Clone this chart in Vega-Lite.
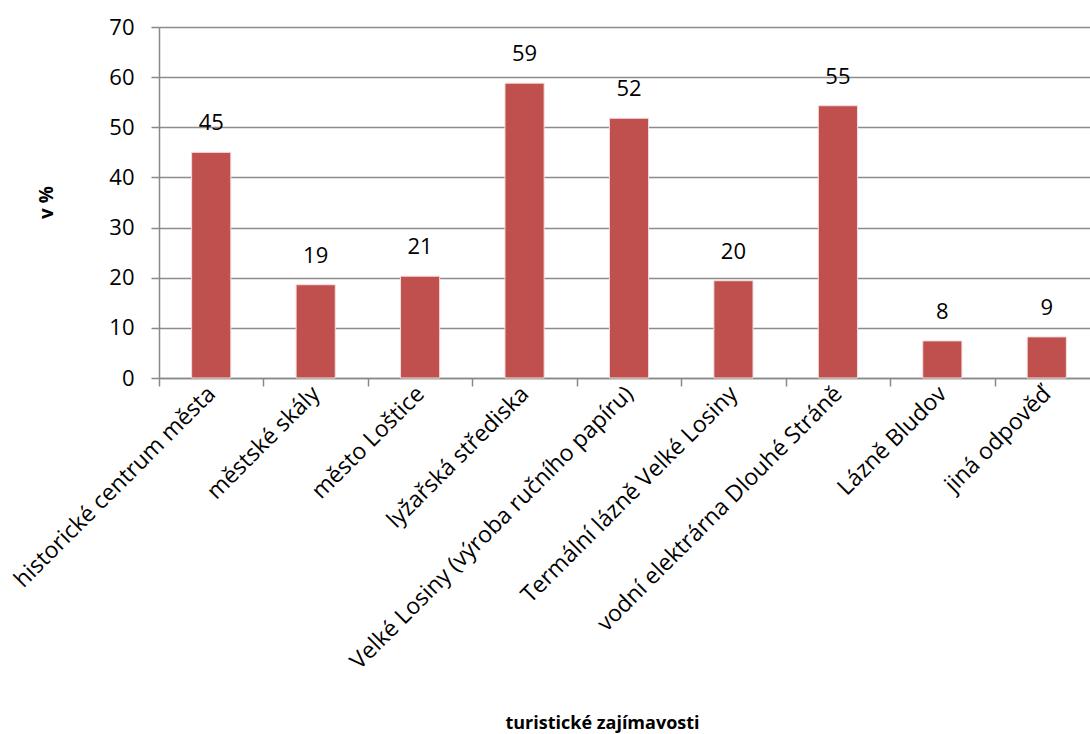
{
  "$schema": "https://vega.github.io/schema/vega-lite/v6.json",
  "autosize": {"type": "none"},
  "padding": {"left": 159, "top": 27, "right": 0, "bottom": 356},
  "width": 940,
  "height": 351,
  "background": "white",
  "config": {"view": {"stroke": null}, "font": "Open Sans"},
  "data": {"values": [
    {"kat": "historické centrum města", "v": 45.0, "lbl": "45"},
    {"kat": "městské skály", "v": 18.6, "lbl": "19"},
    {"kat": "město Loštice", "v": 20.3, "lbl": "21"},
    {"kat": "lyžařská střediska", "v": 58.8, "lbl": "59"},
    {"kat": "Velké Losiny (výroba ručního papíru)", "v": 51.8, "lbl": "52"},
    {"kat": "Termální lázně Velké Losiny", "v": 19.4, "lbl": "20"},
    {"kat": "vodní elektrárna Dlouhé Stráně", "v": 54.3, "lbl": "55"},
    {"kat": "Lázně Bludov", "v": 7.4, "lbl": "8"},
    {"kat": "jiná odpověď", "v": 8.2, "lbl": "9"}
  ]},
  "encoding": {
    "x": {
      "field": "kat", "type": "nominal", "sort": null,
      "scale": {"paddingInner": 0, "paddingOuter": 0},
      "axis": {
        "title": "turistické zajímavosti",
        "titleFontWeight": "bold", "titleFontSize": 18, "titleColor": "black",
        "titleX": 443, "titleY": 354, "titleBaseline": "bottom",
        "labelAngle": -45, "labelAlign": "right", "labelBaseline": "middle",
        "labelFontSize": 23, "labelColor": "black", "labelPadding": 4, "labelLimit": 0,
        "tickBand": "extent", "tickSize": 8, "tickColor": "#888888", "tickWidth": 1.5,
        "domainColor": "#888888", "domainWidth": 1.5, "grid": false
      }
    },
    "y": {
      "field": "v", "type": "quantitative",
      "scale": {"domain": [0, 70]},
      "axis": {
        "title": "v %", "titleFontWeight": "bold", "titleFontSize": 19, "titleColor": "black",
        "titleX": -103, "titleY": 175, "titleAngle": -90,
        "values": [0, 10, 20, 30, 40, 50, 60, 70],
        "labelFontSize": 22, "labelColor": "black", "labelPadding": 17,
        "tickSize": 8, "tickColor": "#888888", "tickWidth": 1.5,
        "domainColor": "#888888", "domainWidth": 1.5,
        "grid": true, "gridColor": "#8c8c8c", "gridWidth": 1.5
      }
    }
  },
  "layer": [
    {"mark": {"type": "bar", "color": "#C0504D", "stroke": "#f4dede", "strokeWidth": 1, "width": {"band": 0.375}}},
    {"mark": {"type": "text", "fontSize": 22, "color": "black", "baseline": "bottom", "dy": -17},
     "encoding": {"text": {"field": "lbl"}}}
  ]
}
